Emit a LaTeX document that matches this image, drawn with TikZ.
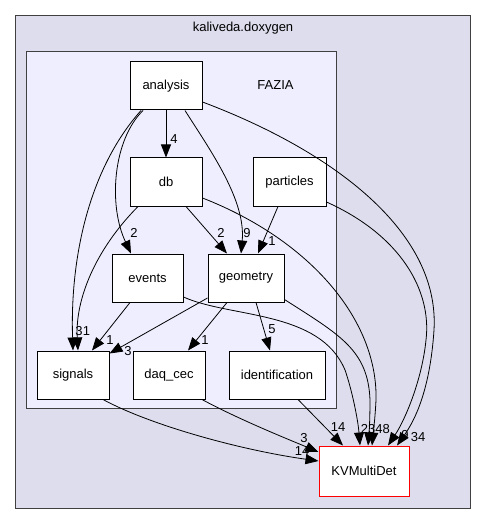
\documentclass[tikz,border=0pt]{standalone}
\usepackage{fontspec}
\setmainfont{Liberation Sans}
\usetikzlibrary{arrows.meta}
\definecolor{outerfill}{HTML}{DDDDEE}
\definecolor{innerfill}{HTML}{EEEEFF}
\definecolor{framegray}{HTML}{404040}
\begin{document}
\begin{tikzpicture}[x=1pt,y=-1pt,
  dirbox/.style={draw=black,fill=white,line width=1pt,minimum width=#1,minimum height=48pt,inner sep=0pt,font=\fontsize{13}{15}\selectfont},
  extbox/.style={draw=red,fill=white,line width=1pt,minimum width=#1,minimum height=50pt,inner sep=0pt,font=\fontsize{13}{15}\selectfont},
  conn/.style={draw=black,line width=0.8pt,-{Triangle[length=13pt,width=10pt]}},
  lbl/.style={inner sep=0pt,font=\fontsize{13}{15}\selectfont},
  ttl/.style={inner sep=0pt,font=\fontsize{13}{15}\selectfont}]
\useasboundingbox (0,0) rectangle (485,521);
\fill[white] (0,0) rectangle (485,521);
% clusters
\draw[framegray,fill=outerfill,line width=1pt] (15,16) rectangle (470,508);
\node[ttl] (outertitle) at (243,28) {kaliveda.doxygen};
\draw[framegray,fill=innerfill,line width=1pt] (26,52) rectangle (336,408);
\node[ttl] (innertitle) at (275.5,85) {FAZIA};
% nodes
\node[dirbox=72pt] (analysis) at (166,86) {analysis};
\node[dirbox=72pt] (db) at (166,182) {db};
\node[dirbox=73pt] (particles) at (289.5,182) {particles};
\node[dirbox=71pt] (events) at (147.5,278) {events};
\node[dirbox=76pt] (geometry) at (246,278) {geometry};
\node[dirbox=72pt] (signals) at (73,375) {signals};
\node[dirbox=72pt] (daq) at (169,375) {daq\_cec};
\node[dirbox=96pt] (ident) at (277,375) {identification};
\node[extbox=90pt] (kv) at (364,471) {KVMultiDet};
% edges
\draw[conn] (analysis.south) -- (db.north);
\draw[conn] ([xshift=19pt]analysis.south) .. controls (210,150) and (246,200) .. ([xshift=-5pt]geometry.north);
\draw[conn] ([xshift=-23pt]analysis.south) .. controls (113,140) and (108,205) .. ([xshift=-16.5pt]events.north);
\draw[conn] ([xshift=-25pt]analysis.south) .. controls (88,170) and (70,260) .. (signals.north);
\draw[conn] ([yshift=-16pt]analysis.east) .. controls (330,150) and (440,230) .. (434,330) .. controls (430,390) and (415,420) .. ([xshift=33pt]kv.north);
\draw[conn] ([xshift=20pt]db.south) -- ([xshift=-19pt]geometry.north);
\draw[conn] ([xshift=-28pt]db.south) .. controls (95,250) and (75,300) .. ([xshift=5pt]signals.north);
\draw[conn] ([yshift=-16pt]db.east) .. controls (310,240) and (378,320) .. (376,400) .. controls (375,420) and (373,435) .. ([xshift=8pt]kv.north);
\draw[conn] ([xshift=-11.5pt]particles.south) -- ([xshift=12pt]geometry.north);
\draw[conn] ([yshift=-20pt]particles.east) .. controls (400,235) and (432,290) .. (426,340) .. controls (422,380) and (405,420) .. ([xshift=24pt]kv.north);
\draw[conn] ([xshift=-17.5pt]events.south) -- ([xshift=19pt]signals.north);
\draw[conn] ([yshift=-19pt]events.east) .. controls (230,318) and (320,310) .. (345,370) .. controls (352,390) and (358,420) .. ([xshift=-4pt]kv.north);
\draw[conn] ([yshift=-20pt]geometry.west) -- ([yshift=-3pt]signals.north east);
\draw[conn] ([xshift=-19pt]geometry.south) -- ([xshift=19pt]daq.north);
\draw[conn] ([xshift=10pt]geometry.south) -- ([xshift=-7pt]ident.north);
\draw[conn] ([yshift=3pt]geometry.south east) .. controls (340,335) and (368,350) .. (370,400) .. controls (370,420) and (369,435) .. ([xshift=4pt]kv.north);
\draw[conn] ([xshift=30pt]signals.south) .. controls (150,425) and (240,450) .. ([yshift=10pt]kv.west);
\draw[conn] ([xshift=33pt]daq.south) .. controls (240,420) and (290,440) .. ([yshift=19pt]kv.west);
\draw[conn] ([xshift=21pt]ident.south) -- ([xshift=-21pt]kv.north);
% labels
\node[lbl] (l1) at (174,139) {4};
\node[lbl] (l2) at (247,233) {9};
\node[lbl] (l3) at (134,233) {2};
\node[lbl] (l4) at (79,331) {3};
\node[lbl] (l5) at (418,437) {34};
\node[lbl] (l6) at (221,233) {2};
\node[lbl] (l7) at (86.5,331) {1};
\node[lbl] (l8) at (382.5,429) {48};
\node[lbl] (l9) at (272,241) {1};
\node[lbl] (l10) at (405,435) {9};
\node[lbl] (l11) at (110,340) {1};
\node[lbl] (l12) at (368,429) {23};
\node[lbl] (l13) at (128,351) {3};
\node[lbl] (l14) at (205,340) {1};
\node[lbl] (l15) at (272,329) {5};
\node[lbl] (l16) at (302,451) {14};
\node[lbl] (l17) at (304,438) {3};
\node[lbl] (l18) at (338,427) {14};
\end{tikzpicture}
\end{document}
